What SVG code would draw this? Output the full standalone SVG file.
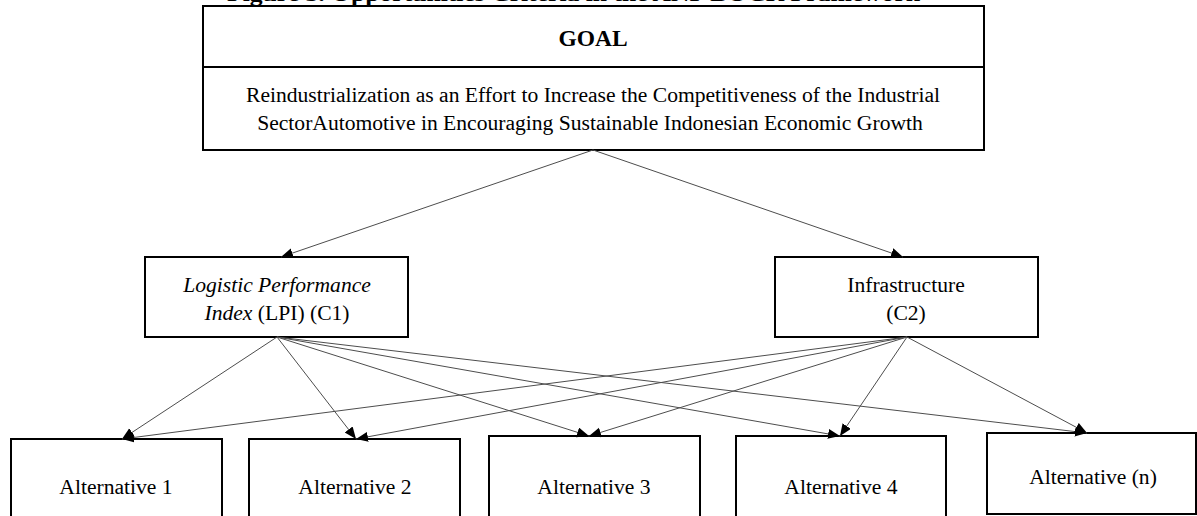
<svg xmlns="http://www.w3.org/2000/svg" width="1197" height="516" viewBox="0 0 1197 516">
  <style>
    .box { fill: #ffffff; stroke: #000000; stroke-width: 2; }
    .t { font-family: "Liberation Serif", "Times New Roman", serif; font-size: 21.6px; fill: #000000; text-anchor: middle; }
    .b { font-weight: bold; }
    .conn { stroke: #4d4d4d; stroke-width: 1; fill: none; marker-end: url(#arrow); }
  </style>
  <defs>
    <marker id="arrow" markerUnits="userSpaceOnUse" markerWidth="13" markerHeight="11" refX="12" refY="5" orient="auto">
      <path d="M0,0 L12,5 L0,10 Z" fill="#000000"/>
    </marker>
  </defs>
  <rect width="1197" height="516" fill="#ffffff"/>

  <text id="title" class="t b" x="227" y="1" style="text-anchor:start;font-size:22px" textLength="693" lengthAdjust="spacingAndGlyphs">Figure 3. Opportunities Criteria in the ANP BOCR Framework</text>

  <g id="goal">
    <rect class="box" x="203" y="6" width="781" height="144"/>
    <line x1="203" y1="67" x2="984" y2="67" stroke="#000" stroke-width="2"/>
    <text class="t b" x="593" y="46" style="font-size:23.5px">GOAL</text>
    <text class="t" x="593" y="102">Reindustrialization as an Effort to Increase the Competitiveness of the Industrial</text>
    <text class="t" x="590" y="130">SectorAutomotive in Encouraging Sustainable Indonesian Economic Growth</text>
  </g>

  <g id="c1">
    <rect class="box" x="145" y="257" width="263" height="80"/>
    <text class="t" x="277" y="292" font-style="italic">Logistic Performance</text>
    <text class="t" x="277" y="320"><tspan font-style="italic">Index</tspan> (LPI) (C1)</text>
  </g>

  <g id="c2">
    <rect class="box" x="775" y="257" width="263" height="80"/>
    <text class="t" x="906" y="292">Infrastructure</text>
    <text class="t" x="906" y="320">(C2)</text>
  </g>

  <g id="alt1">
    <rect class="box" x="11" y="439" width="211" height="90"/>
    <text class="t" x="116" y="494">Alternative 1</text>
  </g>
  <g id="alt2">
    <rect class="box" x="249" y="439" width="211" height="90"/>
    <text class="t" x="355" y="494">Alternative 2</text>
  </g>
  <g id="alt3">
    <rect class="box" x="489" y="436" width="211" height="90"/>
    <text class="t" x="594" y="494">Alternative 3</text>
  </g>
  <g id="alt4">
    <rect class="box" x="736" y="436" width="210" height="90"/>
    <text class="t" x="841" y="494">Alternative 4</text>
  </g>
  <g id="altn">
    <rect class="box" x="987" y="433" width="209" height="81"/>
    <text class="t" x="1093" y="484">Alternative (n)</text>
  </g>

  <g id="connectors">
    <line class="conn" x1="593" y1="150" x2="281" y2="257"/>
    <line class="conn" x1="593" y1="150" x2="903" y2="257"/>

    <line class="conn" x1="277" y1="337" x2="122" y2="439"/>
    <line class="conn" x1="277" y1="337" x2="356" y2="439"/>
    <line class="conn" x1="277" y1="337" x2="589" y2="436"/>
    <line class="conn" x1="277" y1="337" x2="840" y2="436"/>
    <line class="conn" x1="277" y1="337" x2="1087" y2="433"/>

    <line class="conn" x1="907" y1="337" x2="122" y2="439"/>
    <line class="conn" x1="907" y1="337" x2="356" y2="439"/>
    <line class="conn" x1="907" y1="337" x2="589" y2="436"/>
    <line class="conn" x1="907" y1="337" x2="840" y2="436"/>
    <line class="conn" x1="907" y1="337" x2="1087" y2="433"/>
  </g>
</svg>
